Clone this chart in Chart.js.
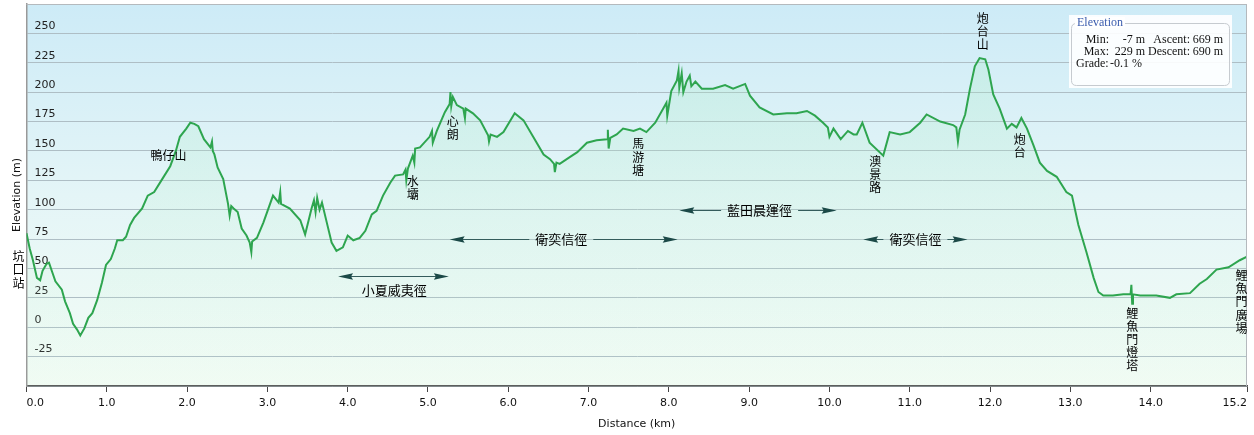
<!DOCTYPE html>
<html>
<head>
<meta charset="utf-8">
<title>Elevation profile</title>
<script src="https://cdn.jsdelivr.net/npm/chart.js@4.4.0/dist/chart.umd.min.js"></script>
<style>
  html, body { margin: 0; padding: 0; background: #fff; }
  #wrap { width: 1254px; height: 435px; position: relative; }
</style>
</head>
<body>
<div id="wrap"><canvas id="profile"></canvas></div>
<script>
'use strict';

// distance along the track (km)
const distanceKm = [
  0.00, 0.04, 0.08, 0.13, 0.17, 0.20, 0.25, 0.28, 0.32, 0.36, 0.44, 0.48, 0.54, 0.58, 0.63, 0.67,
  0.72, 0.77, 0.82, 0.88, 0.94, 0.99, 1.05, 1.10, 1.13, 1.20, 1.24, 1.29, 1.34, 1.44, 1.51, 1.59,
  1.69, 1.79, 1.86, 1.91, 1.99, 2.04, 2.09, 2.14, 2.21, 2.29, 2.31, 2.32, 2.34, 2.38, 2.45, 2.51,
  2.53, 2.55, 2.58, 2.63, 2.68, 2.74, 2.78, 2.80, 2.81, 2.87, 2.95, 3.07, 3.14, 3.16, 3.17, 3.28,
  3.41, 3.47, 3.55, 3.58, 3.60, 3.62, 3.65, 3.68, 3.74, 3.80, 3.86, 3.94, 4.00, 4.07, 4.15, 4.22,
  4.30, 4.36, 4.44, 4.53, 4.59, 4.69, 4.72, 4.73, 4.75, 4.81, 4.83, 4.84, 4.90, 5.02, 5.05, 5.06,
  5.11, 5.21, 5.27, 5.28, 5.29, 5.31, 5.36, 5.44, 5.46, 5.47, 5.56, 5.65, 5.75, 5.76, 5.78, 5.86,
  5.94, 6.08, 6.19, 6.31, 6.44, 6.52, 6.57, 6.58, 6.60, 6.64, 6.77, 6.86, 6.98, 7.10, 7.23, 7.24,
  7.25, 7.27, 7.35, 7.43, 7.56, 7.64, 7.72, 7.83, 7.93, 7.97, 7.98, 8.03, 8.10, 8.12, 8.13, 8.16,
  8.18, 8.22, 8.26, 8.28, 8.33, 8.41, 8.55, 8.70, 8.80, 8.95, 9.01, 9.13, 9.30, 9.47, 9.59, 9.72,
  9.82, 9.92, 9.98, 10.00, 10.05, 10.14, 10.23, 10.30, 10.34, 10.41, 10.50, 10.67, 10.75, 10.88, 11.00, 11.13,
  11.21, 11.38, 11.54, 11.58, 11.60, 11.62, 11.69, 11.75, 11.81, 11.87, 11.94, 11.98, 12.04, 12.12, 12.21, 12.27,
  12.33, 12.39, 12.46, 12.54, 12.62, 12.71, 12.83, 12.95, 13.02, 13.10, 13.20, 13.29, 13.35, 13.41, 13.53, 13.66,
  13.75, 13.76, 13.77, 13.78, 13.87, 14.07, 14.24, 14.32, 14.49, 14.61, 14.70, 14.82, 14.97, 15.11, 15.20
];

// elevation (m) at each of those distances
const elevationM = [
  80, 67, 57, 42, 40, 48, 54, 55, 47, 39, 32, 22, 12, 3, -2, -7,
  -1, 8, 12, 23, 38, 53, 58, 67, 74, 74, 77, 87, 93, 101, 112, 115,
  126, 137, 150, 162, 169, 174, 173, 171, 160, 153, 158, 150, 147, 136, 126, 105,
  95, 103, 101, 98, 84, 78, 72, 64, 73, 76, 89, 112, 106, 115, 105, 101,
  91, 79, 101, 108, 98, 110, 100, 106, 89, 72, 65, 68, 78, 74, 76, 82,
  96, 99, 112, 123, 129, 130, 134, 125, 135, 146, 140, 152, 153, 162, 167, 157,
  167, 183, 190, 200, 188, 196, 189, 186, 178, 186, 182, 176, 163, 158, 164, 162,
  166, 182, 176, 162, 147, 143, 139, 132, 140, 139, 145, 149, 157, 159, 160, 168,
  152, 161, 164, 169, 167, 169, 166, 174, 186, 191, 180, 201, 210, 218, 204, 216,
  200, 209, 214, 205, 209, 203, 203, 206, 203, 207, 197, 187, 181, 182, 182, 184,
  180, 174, 170, 162, 169, 160, 167, 164, 164, 174, 157, 146, 166, 164, 166, 174,
  181, 175, 172, 170, 158, 168, 181, 203, 222, 229, 228, 219, 198, 186, 169, 173,
  170, 178, 169, 155, 140, 133, 128, 115, 112, 87, 64, 42, 30, 27, 27, 28,
  28, 36, 20, 28, 27, 27, 25, 28, 29, 37, 41, 49, 51, 57, 60
];

// place names, anchored at (km, elevation) of the first character
const placeLabels = [
  { text: '坑口站', km: -0.1, m: 60, vertical: true },
  { text: '鴨仔山', km: 1.77, m: 146, vertical: false },
  { text: '水壩', km: 4.81, m: 124, vertical: true },
  { text: '心朗', km: 5.31, m: 175, vertical: true },
  { text: '馬游塘', km: 7.62, m: 156, vertical: true },
  { text: '澳景路', km: 10.57, m: 141, vertical: true },
  { text: '炮台山', km: 11.91, m: 263, vertical: true },
  { text: '炮台', km: 12.37, m: 160, vertical: true },
  { text: '鯉魚門燈塔', km: 13.77, m: 12, vertical: true },
  { text: '鯉魚門廣場', km: 15.13, m: 44, vertical: true }
];

// trail sections: double arrows between two distances
const trailArrows = [
  { text: '小夏威夷徑', fromKm: 3.88, toKm: 5.26, m: 44, textKm: 4.58, below: true },
  { text: '衛奕信徑', fromKm: 5.27, toKm: 8.11, m: 75, textKm: 6.66, below: false },
  { text: '藍田晨運徑', fromKm: 8.13, toKm: 10.09, m: 100, textKm: 9.13, below: false },
  { text: '衛奕信徑', fromKm: 10.42, toKm: 11.72, m: 75, textKm: 11.07, below: false }
];

// summary box
const statsRows = [
  ['Min:', '-7 m', 'Ascent:', '669 m'],
  ['Max:', '229 m', 'Descent:', '690 m']
];
const gradeRow = ['Grade:', '-0.1 %'];

const cjkFont = '"Noto Sans CJK TC", "Noto Sans CJK SC", sans-serif';

function arrowHead(ctx, tipX, y, dir) {
  // dir: -1 points left, +1 points right; long thin dart
  ctx.beginPath();
  ctx.moveTo(tipX, y);
  ctx.lineTo(tipX - dir * 15, y - 3.2);
  ctx.lineTo(tipX - dir * 13, y);
  ctx.lineTo(tipX - dir * 15, y + 3.2);
  ctx.closePath();
  ctx.fill();
}

function roundRect(ctx, x, y, w, h, r) {
  ctx.beginPath();
  ctx.moveTo(x + r, y);
  ctx.lineTo(x + w - r, y);
  ctx.quadraticCurveTo(x + w, y, x + w, y + r);
  ctx.lineTo(x + w, y + h - r);
  ctx.quadraticCurveTo(x + w, y + h, x + w - r, y + h);
  ctx.lineTo(x + r, y + h);
  ctx.quadraticCurveTo(x, y + h, x, y + h - r);
  ctx.lineTo(x, y + r);
  ctx.quadraticCurveTo(x, y, x + r, y);
  ctx.closePath();
}

const profileDecor = {
  id: 'profileDecor',
  beforeDraw(chart) {
    const { ctx, chartArea: a } = chart;
    ctx.save();
    ctx.fillStyle = '#fff';
    ctx.fillRect(0, 0, chart.width, chart.height);
    const g = ctx.createLinearGradient(0, a.top, 0, a.bottom);
    g.addColorStop(0, '#cdebf7');
    g.addColorStop(0.5, '#e4f5f7');
    g.addColorStop(1, '#f3fcf5');
    ctx.fillStyle = g;
    ctx.fillRect(a.left, a.top, a.right - a.left, a.bottom - a.top);
    ctx.restore();
  },
  afterDatasetsDraw(chart) {
    const { ctx, chartArea: a } = chart;
    const xs = chart.scales.x, ys = chart.scales.y;
    ctx.save();

    // frame on top and right
    ctx.strokeStyle = '#b4b9bd';
    ctx.lineWidth = 1;
    ctx.beginPath();
    ctx.moveTo(a.left, a.top + 0.5);
    ctx.lineTo(a.right - 0.5, a.top + 0.5);
    ctx.lineTo(a.right - 0.5, a.bottom);
    ctx.stroke();

    // place names
    ctx.fillStyle = '#000';
    ctx.font = '12px ' + cjkFont;
    ctx.textAlign = 'center';
    ctx.textBaseline = 'middle';
    placeLabels.forEach(p => {
      const x = xs.getPixelForValue(p.km);
      const y = ys.getPixelForValue(p.m);
      if (p.vertical) {
        [...p.text].forEach((ch, i) => ctx.fillText(ch, x, y + i * 13.2));
      } else {
        ctx.fillText(p.text, x, y);
      }
    });

    // trail arrows
    ctx.font = '13px ' + cjkFont;
    trailArrows.forEach(t => {
      const x0 = xs.getPixelForValue(t.fromKm);
      const x1 = xs.getPixelForValue(t.toKm);
      const y = Math.round(ys.getPixelForValue(t.m)) + 0.5;
      const tx = xs.getPixelForValue(t.textKm);
      const tw = ctx.measureText(t.text).width;
      ctx.strokeStyle = '#345c5c';
      ctx.fillStyle = '#1b4947';
      ctx.lineWidth = 1.2;
      ctx.beginPath();
      if (t.below) {
        ctx.moveTo(x0 + 12, y);
        ctx.lineTo(x1 - 12, y);
      } else {
        ctx.moveTo(x0 + 12, y);
        ctx.lineTo(tx - tw / 2 - 6, y);
        ctx.moveTo(tx + tw / 2 + 6, y);
        ctx.lineTo(x1 - 12, y);
      }
      ctx.stroke();
      arrowHead(ctx, x0, y, -1);
      arrowHead(ctx, x1, y, 1);
      ctx.fillStyle = '#000';
      ctx.fillText(t.text, tx, t.below ? y + 13.5 : y);
    });

    // summary box
    ctx.fillStyle = 'rgba(255,255,255,0.9)';
    ctx.fillRect(1069, 15, 163, 73);
    ctx.strokeStyle = '#c6cbd0';
    ctx.lineWidth = 1;
    roundRect(ctx, 1071.5, 23.5, 158, 62, 5);
    ctx.stroke();
    ctx.font = '12px "Liberation Serif", "DejaVu Serif", serif';
    ctx.textBaseline = 'middle';
    ctx.textAlign = 'left';
    const lw = ctx.measureText('Elevation').width;
    ctx.fillStyle = '#fff';
    ctx.fillRect(1075, 17, lw + 4, 11);
    ctx.fillStyle = '#3a5cae';
    ctx.fillText('Elevation', 1077, 22.5);
    ctx.fillStyle = '#111';
    ctx.textAlign = 'right';
    const colRight = [1109, 1145, 1190, 1223];
    statsRows.forEach((row, r) => {
      row.forEach((cell, c) => ctx.fillText(cell, colRight[c], 40 + r * 12));
    });
    ctx.textAlign = 'left';
    ctx.fillText(gradeRow[0], 1076, 64);
    ctx.fillText(gradeRow[1], 1110, 64);

    ctx.restore();
  }
};

const axisFont = { family: '"DejaVu Sans", sans-serif', size: 11 };

function underFill(context) {
  const a = context.chart.chartArea;
  if (!a) return 'rgba(170, 230, 190, 0.15)';
  const g = context.chart.ctx.createLinearGradient(0, a.top, 0, a.bottom);
  g.addColorStop(0, 'rgba(160, 232, 190, 0.30)');
  g.addColorStop(1, 'rgba(200, 245, 215, 0.06)');
  return g;
}

new Chart(document.getElementById('profile'), {
  type: 'line',
  data: {
    datasets: [{
      label: 'Elevation',
      data: distanceKm.map((km, i) => ({ x: km, y: elevationM[i] })),
      borderColor: '#2ea54f',
      borderWidth: 2,
      backgroundColor: underFill,
      fill: 'start',
      pointRadius: 0,
      tension: 0
    }]
  },
  options: {
    responsive: true,
    maintainAspectRatio: false,
    animation: false,
    layout: { padding: { top: 4, right: 7, bottom: 2.6, left: 0 } },
    plugins: {
      legend: { display: false },
      tooltip: { enabled: false }
    },
    scales: {
      x: {
        type: 'linear',
        min: 0,
        max: 15.2,
        ticks: {
          stepSize: 1,
          autoSkip: false,
          align: 'inner',
          maxRotation: 0,
          padding: 5,
          color: '#111',
          font: axisFont,
          callback: v => v.toFixed(1)
        },
        grid: { drawOnChartArea: false, drawTicks: true, tickLength: 6, color: '#444' },
        border: { color: '#555', width: 1.5 },
        title: {
          display: true,
          text: 'Distance (km)',
          color: '#111',
          font: axisFont,
          padding: { top: 2, bottom: 2 }
        }
      },
      y: {
        min: -50,
        max: 275,
        ticks: {
          stepSize: 25,
          mirror: true,
          padding: 8,
          labelOffset: -7,
          color: '#222',
          font: axisFont,
          callback: v => (v <= -50 || v >= 275) ? '' : v
        },
        grid: { color: '#aebec5', drawTicks: false },
        border: { color: '#999', width: 1.5 },
        title: {
          display: true,
          text: 'Elevation (m)',
          color: '#111',
          font: axisFont,
          padding: { top: 10.4, bottom: 0 }
        },
        afterFit(scale) {
          scale.width = 26.5;
          scale.paddingTop = 0;
          scale.paddingBottom = 0;
        }
      }
    }
  },
  plugins: [profileDecor]
});
</script>
</body>
</html>
